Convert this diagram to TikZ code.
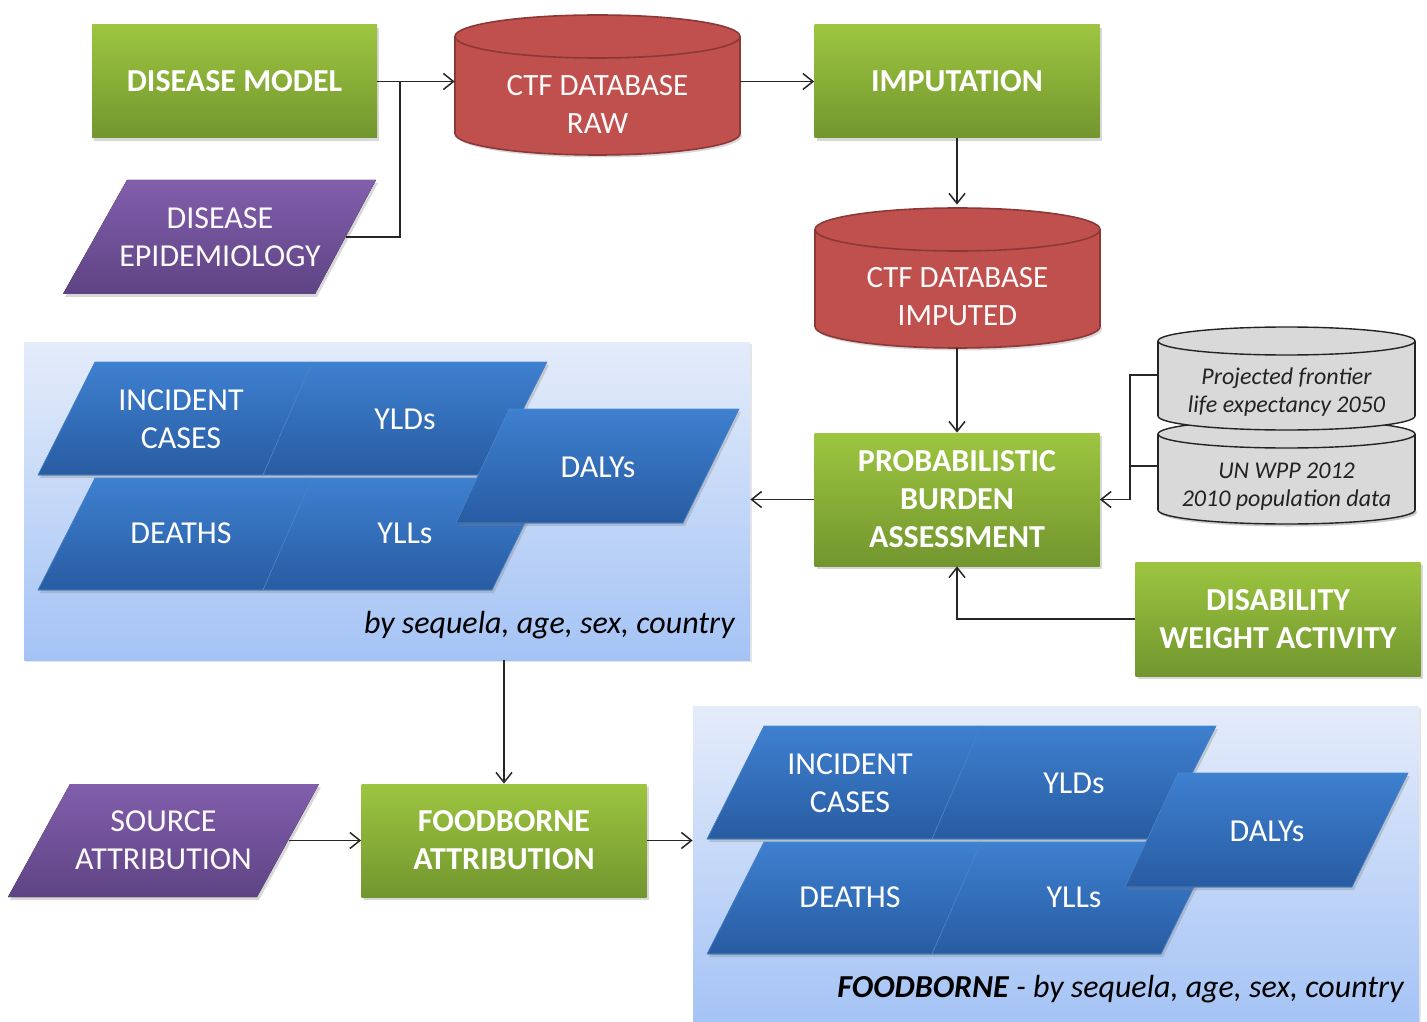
\documentclass[tikz,border=0pt]{standalone}
\usepackage{fontspec}
\setmainfont{Carlito}
\usetikzlibrary{arrows.meta,shadows}
\definecolor{gtop}{RGB}{157,197,64}
\definecolor{gbot}{RGB}{114,150,46}
\definecolor{ptop}{RGB}{130,94,172}
\definecolor{pbot}{RGB}{94,68,132}
\definecolor{redf}{RGB}{192,80,77}
\definecolor{redd}{RGB}{140,56,54}
\definecolor{btop}{RGB}{62,128,208}
\definecolor{bbot}{RGB}{40,92,162}
\definecolor{bedge}{RGB}{78,138,208}
\definecolor{paneltop}{RGB}{228,236,250}
\definecolor{panelbot}{RGB}{164,195,245}
\definecolor{grayf}{RGB}{217,217,217}
\definecolor{grayd}{RGB}{35,35,35}
\definecolor{wtxt}{RGB}{252,250,250}

\newcommand\BlueSet[3]{%
  \begin{scope}[shift={(#1)}]
    \node[panel] (#2panel) at (387,501) {};
    \fill[bshape] (95,362) -- (312,362) -- (263,475) -- (38,475) -- cycle;
    \fill[bshape] (312,362) -- (547,362) -- (490,475) -- (263,475) -- cycle;
    \fill[bshape] (95,478) -- (312,478) -- (263,590) -- (38,590) -- cycle;
    \fill[bshape] (312,478) -- (547,478) -- (492,590) -- (263,590) -- cycle;
    \fill[bshape] (509,409) -- (739,409) -- (683,523) -- (456,523) -- cycle;
    \node[btext] (#2inc) at (181,419) {INCIDENT\\CASES};
    \node[btext] (#2yld) at (405,419) {YLDs};
    \node[btext] (#2dth) at (181,533) {DEATHS};
    \node[btext] (#2yll) at (405,533) {YLLs};
    \node[btext] (#2daly) at (598,467) {DALYs};
    \node[lbl, anchor=east] (#2lbl) at (735,625) {#3};
  \end{scope}}

\begin{document}
\begin{tikzpicture}[x=0.5pt,y=-0.5pt,
  gbox/.style={rectangle, top color=gtop, bottom color=gbot, draw=none,
    minimum width=142.5pt, minimum height=56.5pt, inner sep=0pt, text=white,
    font=\bfseries\fontsize{16}{19}\selectfont, align=center,
    drop shadow={shadow xshift=1.2pt, shadow yshift=-1.5pt, opacity=0.3}},
  anchorbox/.style={rectangle, draw=none, inner sep=0pt},
  ptext/.style={text=wtxt, font=\fontsize{16}{19}\selectfont, align=center, inner sep=0pt},
  rtext/.style={text=wtxt, font=\fontsize{15.5}{19}\selectfont, align=center, inner sep=0pt},
  gtext/.style={text=grayd, font=\itshape\fontsize{12}{14}\selectfont, align=center, inner sep=0pt},
  btext/.style={text=white, font=\fontsize{16}{19}\selectfont, align=center, inner sep=0pt},
  lbl/.style={text=black, font=\itshape\fontsize{16}{19}\selectfont, inner sep=0pt},
  panel/.style={rectangle, top color=paneltop, bottom color=panelbot, draw=none,
    minimum width=363pt, minimum height=159pt, inner sep=0pt,
    drop shadow={shadow xshift=1pt, shadow yshift=-1.2pt, opacity=0.2}},
  bshape/.style={top color=btop, bottom color=bbot, draw=bedge, line width=0.3pt,
    drop shadow={shadow xshift=1pt, shadow yshift=-1.5pt, opacity=0.3}},
  pshape/.style={top color=ptop, bottom color=pbot,
    drop shadow={shadow xshift=1pt, shadow yshift=-1.5pt, opacity=0.3}},
  conn/.style={draw=black!85, line width=0.75pt},
  arr/.style={conn, -{Straight Barb[length=5pt, width=8pt, line width=0.75pt]}}
]
\useasboundingbox (0,0) rectangle (1427,1021);
\fill[white] (0,0) rectangle (1427,1021);

% result panels
\BlueSet{0,0}{a}{by sequela, age, sex, country}
\BlueSet{669,364}{b}{{\bfseries FOODBORNE} - by sequela, age, sex, country}

% purple inputs
\fill[pshape] (127,180) -- (376,180) -- (315,294) -- (63,294) -- cycle;
\node[ptext] (epi) at (220,237) {DISEASE\\EPIDEMIOLOGY};
\coordinate (epiR) at (346,237);
\fill[pshape] (70,784) -- (319,784) -- (257,897) -- (8,897) -- cycle;
\node[ptext] (src) at (163.5,840.5) {SOURCE\\ATTRIBUTION};
\coordinate (srcR) at (289,840.5);

% red cylinders
\fill[black, opacity=0.15] (599.5,136) ellipse [x radius=71.25pt, y radius=10.75pt];
\fill[fill=redf, draw=redd, line width=0.8pt] (597.5,133.5) ellipse [x radius=71.25pt, y radius=10.75pt];
\fill[redf] (455,36.5) rectangle (740,133.5);
\draw[redd, line width=0.8pt] (455,36.5) -- (455,133.5) (740,36.5) -- (740,133.5);
\filldraw[fill=redf, draw=redd, line width=0.8pt] (597.5,36.5) ellipse [x radius=71.25pt, y radius=10.75pt];
\node[anchorbox, minimum width=142.5pt, minimum height=71.5pt] (raw) at (597.5,83.5) {};
\node[rtext] (rawt) at (597.5,104) {CTF DATABASE\\RAW};

\fill[black, opacity=0.15] (959.5,329) ellipse [x radius=71.25pt, y radius=10.75pt];
\fill[fill=redf, draw=redd, line width=0.8pt] (957.5,326.5) ellipse [x radius=71.25pt, y radius=10.75pt];
\fill[redf] (815,229.5) rectangle (1100,326.5);
\draw[redd, line width=0.8pt] (815,229.5) -- (815,326.5) (1100,229.5) -- (1100,326.5);
\filldraw[fill=redf, draw=redd, line width=0.8pt] (957.5,229.5) ellipse [x radius=71.25pt, y radius=10.75pt];
\node[anchorbox, minimum width=142.5pt, minimum height=71.5pt] (imputed) at (957.5,276.5) {};
\node[rtext] (impt) at (957.5,297) {CTF DATABASE\\IMPUTED};

% gray cylinders (lower first)
\fill[black, opacity=0.2] (1288.5,512.5) ellipse [x radius=64.25pt, y radius=7pt];
\fill[fill=grayf, draw=grayd, line width=0.7pt] (1286.5,510) ellipse [x radius=64.25pt, y radius=7pt];
\fill[grayf] (1158,434) rectangle (1415,510);
\draw[grayd, line width=0.7pt] (1158,434) -- (1158,510) (1415,434) -- (1415,510);
\filldraw[fill=grayf, draw=grayd, line width=0.7pt] (1286.5,434) ellipse [x radius=64.25pt, y radius=7pt];
\node[anchorbox, minimum width=128.5pt, minimum height=52pt] (glow) at (1286.5,472) {};
\node[gtext] (glowt) at (1286.5,486.5) {UN WPP 2012\\2010 population data};

\fill[fill=grayf, draw=grayd, line width=0.7pt] (1286.5,416) ellipse [x radius=64.25pt, y radius=7pt];
\fill[grayf] (1158,341) rectangle (1415,416);
\draw[grayd, line width=0.7pt] (1158,341) -- (1158,416) (1415,341) -- (1415,416);
\filldraw[fill=grayf, draw=grayd, line width=0.7pt] (1286.5,341) ellipse [x radius=64.25pt, y radius=7pt];
\node[anchorbox, minimum width=128.5pt, minimum height=51.5pt] (gtop) at (1286.5,378.5) {};
\node[gtext] (gtopt) at (1286.5,392) {Projected frontier\\life expectancy 2050};

% green process boxes
\node[gbox] (dm) at (234.5,81.5) {DISEASE MODEL};
\node[gbox] (imp) at (957,81.5) {IMPUTATION};
\node[gbox, minimum height=66.5pt] (pba) at (957,499.5) {PROBABILISTIC\\BURDEN\\ASSESSMENT};
\node[gbox, minimum height=57pt] (dwa) at (1278,619) {DISABILITY\\WEIGHT ACTIVITY};
\node[gbox] (fa) at (504,840.5) {FOODBORNE\\ATTRIBUTION};

% connectors
\coordinate (j1) at (400,81.5);
\coordinate (jg) at (1130,499.5);
\draw[arr] (dm.east) -- (dm.east -| raw.west);
\draw[conn] (epiR) -| (j1);
\draw[arr] (raw.east |- imp.west) -- (imp.west);
\draw[arr] (imp.south) -- (imp.south |- imputed.north);
\draw[arr] (imputed.south) -- (imputed.south -| pba.north) -- (pba.north);
\draw[arr] (pba.west) -- (pba.west -| apanel.east);
\draw[conn] ([yshift=1.75pt]gtop.west) -| (jg);
\draw[conn] ([yshift=3pt]glow.west) -- ([yshift=3pt]glow.west -| jg);
\draw[arr] (jg) -- (pba.east);
\draw[arr] (dwa.west) -| (pba.south);
\draw[arr] (fa.north |- apanel.south) -- (fa.north);
\draw[arr] (srcR) -- (fa.west);
\draw[arr] (fa.east) -- (fa.east -| bpanel.west);
\end{tikzpicture}
\end{document}
